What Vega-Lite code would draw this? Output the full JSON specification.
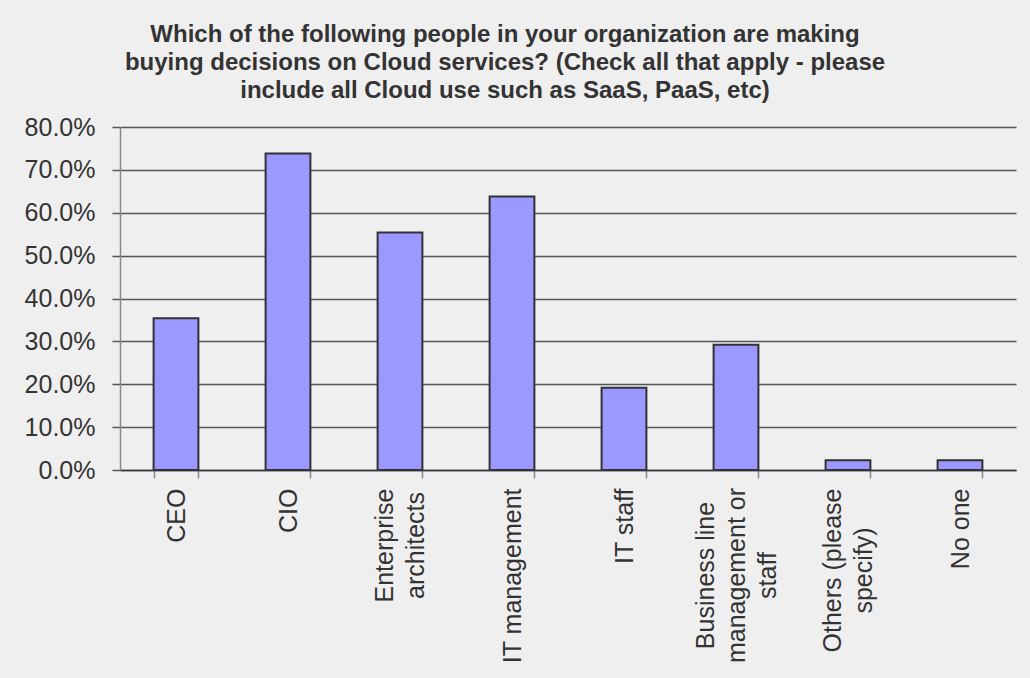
{
  "$schema": "https://vega.github.io/schema/vega-lite/v6.json",
  "width": 896,
  "height": 343,
  "autosize": "none",
  "padding": {"left": 120, "top": 127, "right": 14, "bottom": 208},
  "background": "#EFEFEF",
  "title": {
    "text": [
      "Which of the following people in your organization are making",
      "buying decisions on Cloud services? (Check all that apply - please",
      "include all Cloud use such as SaaS, PaaS, etc)"
    ],
    "font": "Liberation Sans",
    "fontSize": 24,
    "fontWeight": "bold",
    "color": "#333333",
    "anchor": "middle",
    "dx": -63,
    "offset": 12,
    "lineHeight": 28
  },
  "config": {"view": {"stroke": null}},
  "data": {
    "values": [
      {"role": "CEO", "share": 0.354},
      {"role": "CIO", "share": 0.738},
      {"role": "Enterprise architects", "share": 0.554},
      {"role": "IT management", "share": 0.638},
      {"role": "IT staff", "share": 0.192},
      {"role": "Business line management or staff", "share": 0.292},
      {"role": "Others (please specify)", "share": 0.023},
      {"role": "No one", "share": 0.023}
    ]
  },
  "mark": {"type": "bar", "fill": "#9999FF", "stroke": "#333333", "strokeWidth": 2},
  "encoding": {
    "x": {
      "field": "role",
      "type": "nominal",
      "sort": null,
      "scale": {"paddingInner": 0.6, "paddingOuter": 0.3},
      "axis": {
        "title": null,
        "labelAngle": -90,
        "labelAlign": {
          "condition": {"test": "indexof(['Enterprise architects', 'Business line management or staff', 'Others (please specify)'], datum.value) >= 0", "value": "center"},
          "value": "right"
        },
        "labelBaseline": "middle",
        "labelFont": "Liberation Sans",
        "labelFontSize": 25,
        "labelColor": "#333333",
        "labelLineHeight": 31,
        "labelLimit": 0,
        "labelPadding": {
          "condition": [
            {"test": "datum.value == 'Business line management or staff'", "value": 97},
            {"test": "datum.value == 'Others (please specify)'", "value": 92},
            {"test": "datum.value == 'Enterprise architects'", "value": 67}
          ],
          "value": 10
        },
        "labelOffset": {
          "condition": [
            {"test": "datum.value == 'Business line management or staff'", "value": -31},
            {"test": "datum.value == 'Enterprise architects' || datum.value == 'Others (please specify)'", "value": -15.5}
          ],
          "value": 0
        },
        "labelExpr": "datum.value == 'Enterprise architects' ? ['Enterprise', 'architects'] : datum.value == 'Business line management or staff' ? ['Business line', 'management or', 'staff'] : datum.value == 'Others (please specify)' ? ['Others (please', 'specify)'] : datum.label",
        "domainColor": "#333333",
        "domainWidth": 1.5,
        "tickColor": "#888888",
        "tickSize": 8,
        "tickWidth": 1.5,
        "tickBand": "extent",
        "grid": false
      }
    },
    "y": {
      "field": "share",
      "type": "quantitative",
      "scale": {"domain": [0, 0.8]},
      "axis": {
        "title": null,
        "values": [0, 0.1, 0.2, 0.3, 0.4, 0.5, 0.6, 0.7, 0.8],
        "format": ".1%",
        "labelFont": "Liberation Sans",
        "labelFontSize": 25,
        "labelColor": "#333333",
        "labelPadding": 17,
        "tickSize": 8,
        "tickColor": "#555555",
        "tickWidth": 1.5,
        "grid": true,
        "gridColor": "#555555",
        "gridWidth": 1.5,
        "domainColor": "#888888",
        "domainWidth": 1.5
      }
    }
  }
}
